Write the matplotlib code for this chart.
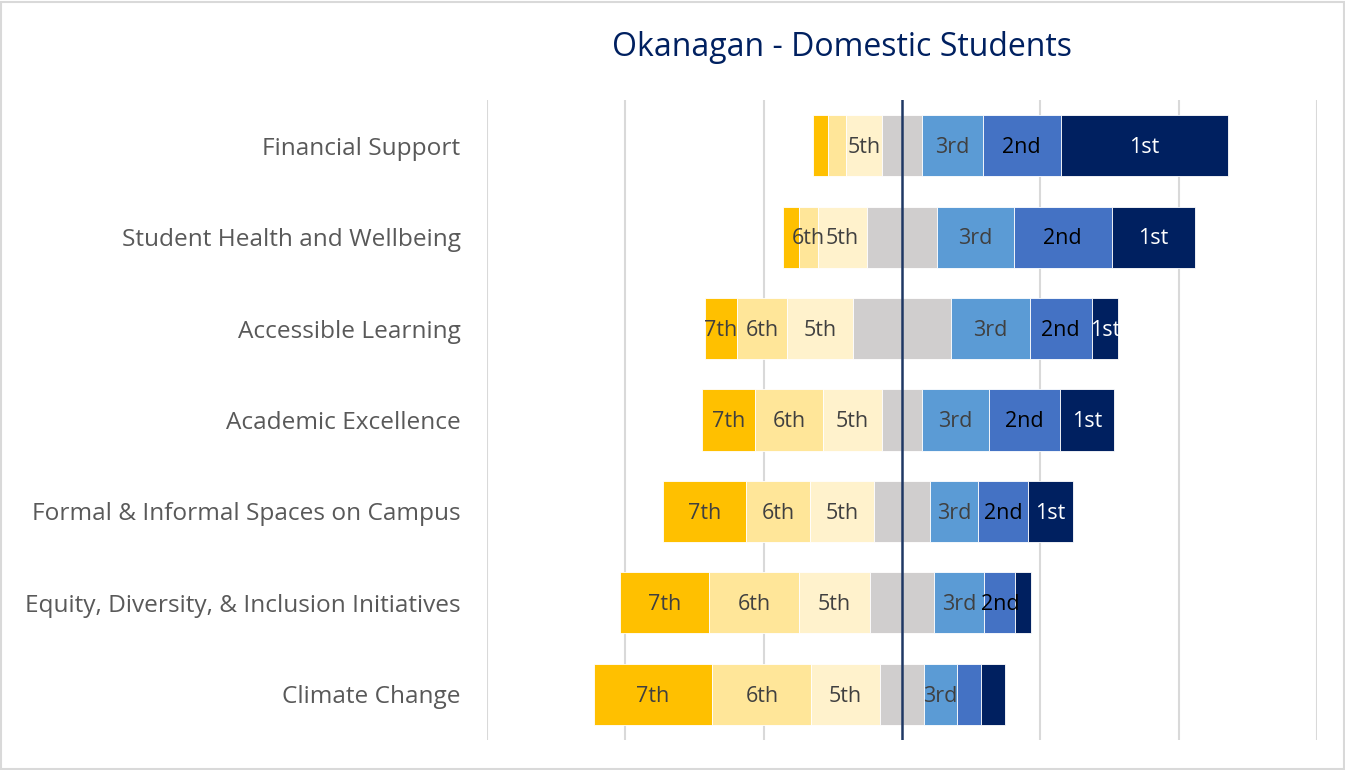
import matplotlib
matplotlib.use("Agg")
import matplotlib.pyplot as plt
import numpy as np

plt.rcParams["font.family"] = ["Open Sans", "DejaVu Sans"]

categories = [
    "Financial Support",
    "Student Health and Wellbeing",
    "Accessible Learning",
    "Academic Excellence",
    "Formal & Informal Spaces on Campus",
    "Equity, Diversity, & Inclusion Initiatives",
    "Climate Change",
]
rank_names = ["7th", "6th", "5th", "4th", "3rd", "2nd", "1st"]

# share of respondents (%) giving each rank, per category
rank7 = [2.1, 2.3, 4.7, 7.7, 11.9, 12.9, 17.2]
rank6 = [2.7, 2.8, 7.2, 9.8, 9.3, 13.0, 14.3]
rank5 = [5.1, 7.1, 9.6, 8.5, 9.3, 10.3, 9.9]
rank4 = [5.9, 10.1, 14.1, 5.8, 8.0, 9.2, 6.4]
rank3 = [8.7, 11.1, 11.4, 9.7, 7.0, 7.3, 4.8]
rank2 = [11.3, 14.2, 9.0, 10.3, 7.2, 4.5, 3.4]
rank1 = [24.2, 12.0, 3.8, 7.8, 6.5, 2.3, 3.5]

# segments whose data label was removed in the original chart
hidden_labels = {(0, "7th"), (0, "6th"), (1, "7th"), (5, "1st"), (6, "2nd"), (6, "1st")}

colors = ["#FFC000", "#FFE699", "#FFF2CC", "#D0CECE", "#5B9BD5", "#4472C4", "#002060"]
label_colors = ["#404040", "#404040", "#404040", None, "#404040", "#000000", "#FFFFFF"]

values = np.array([rank7, rank6, rank5, rank4, rank3, rank2, rank1])
y = np.arange(len(categories))

# left edge: everything below 4th rank plus half of the 4th rank goes left of zero
left = -(values[0] + values[1] + values[2] + values[3] / 2)

fig = plt.figure(figsize=(13.45, 7.7), dpi=100)
ax = fig.add_axes([487 / 1345, 30 / 770, 830 / 1345, 640 / 770])

for xg in [-60, -40, -20, 20, 40, 60]:
    ax.axvline(xg, color="#D9D9D9", linewidth=1.5, zorder=0)

for i, name in enumerate(rank_names):
    bars = ax.barh(y, values[i], left=left, height=0.67, color=colors[i],
                   edgecolor="white", linewidth=0.6, zorder=2)
    if label_colors[i] is not None:
        for j, b in enumerate(bars):
            if (j, name) in hidden_labels:
                continue
            ax.text(b.get_x() + b.get_width() / 2, y[j] + 0.02, name, ha="center", va="center",
                    fontsize=15.5, color=label_colors[i], zorder=3)
    left = left + values[i]

ax.axvline(0, color="#1F3864", linewidth=1.8, zorder=4)

ax.set_xlim(-60, 60)
ax.set_ylim(len(categories) - 0.5, -0.5)
ax.set_yticks(y)
ax.set_yticklabels(categories, fontsize=17.6, color="#595959")
ax.tick_params(axis="y", length=0, pad=19)
ax.set_xticks([])
for s in ax.spines.values():
    s.set_visible(False)

fig.text(842 / 1345, 1 - 48 / 770, "Okanagan - Domestic Students", ha="center", va="center",
         fontsize=23, color="#002060")

border = plt.Rectangle((0.001, 0.001), 0.998, 0.997, transform=fig.transFigure,
                       fill=False, edgecolor="#D9D9D9", linewidth=1.5)
fig.patches.append(border)

fig.savefig("out.png", dpi=100)
